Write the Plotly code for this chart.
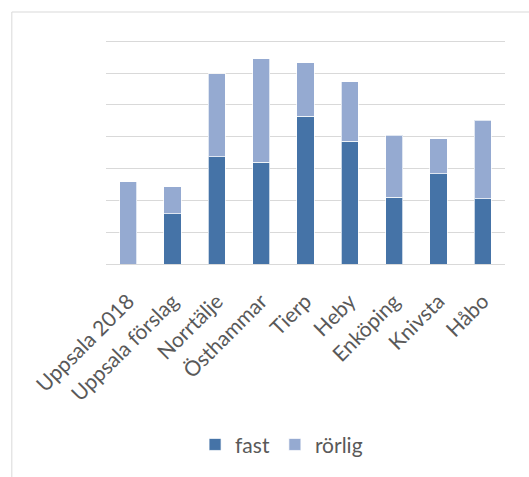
import plotly.graph_objects as go

categories = ["Uppsala 2018", "Uppsala förslag", "Norrtälje", "Östhammar", "Tierp",
              "Heby", "Enköping", "Knivsta", "Håbo"]
fast = [0.0, 1.58, 3.37, 3.19, 4.64, 3.85, 2.10, 2.84, 2.05]
rorlig = [2.59, 0.85, 2.61, 3.26, 1.68, 1.88, 1.95, 1.09, 2.46]

FAST_COLOR = "#4573A7"
RORLIG_COLOR = "#95AAD1"
FONT = "Lato"

fig = go.Figure()
fig.add_trace(go.Bar(x=categories, y=fast, name="fast",
                     marker=dict(color=FAST_COLOR, line=dict(color="rgba(255,255,255,0.7)", width=1))))
fig.add_trace(go.Bar(x=categories, y=rorlig, name="rörlig",
                     marker=dict(color=RORLIG_COLOR, line=dict(color="rgba(255,255,255,0.7)", width=1))))

fig.update_layout(
    barmode="stack",
    bargap=0.61,
    width=529, height=477,
    margin=dict(l=106, r=24, t=38, b=213, autoexpand=False),
    paper_bgcolor="white", plot_bgcolor="white",
    font=dict(family=FONT, color="#595959", size=20),
    showlegend=True,
    legend=dict(orientation="h", x=0.44, xanchor="center", y=-0.80, yanchor="middle",
                font=dict(size=21, color="#595959"), traceorder="normal"),
    xaxis=dict(tickangle=-45, showgrid=False, showline=False, ticks="",
               ticklabelstandoff=20,
               tickfont=dict(size=21, color="#595959")),
    yaxis=dict(range=[0, 7.1], dtick=1, showgrid=True, gridcolor="#D9D9D9", gridwidth=1,
               showticklabels=False, zeroline=True, zerolinecolor="#D9D9D9", zerolinewidth=1,
               showline=False, ticks=""),
    shapes=[dict(type="rect", xref="paper", yref="paper", x0=-0.236, x1=1.5, y0=-1.5, y1=1.115,
                 line=dict(color="#D9D9D9", width=1), fillcolor="rgba(0,0,0,0)", layer="below")],
)

fig.write_html("out.html")
